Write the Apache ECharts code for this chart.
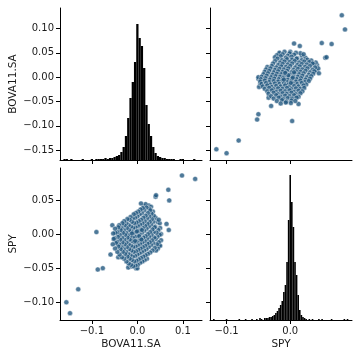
<!DOCTYPE html>
<html>
<head>
<meta charset="utf-8">
<script src="https://cdn.jsdelivr.net/npm/echarts@6/dist/echarts.min.js"></script>
<style>
html, body { margin: 0; padding: 0; background: #fff; }
#chart { width: 360px; height: 360px; }
</style>
</head>
<body>
<div id="chart"></div>
<script>
// variable names and axis ranges
var bovaName = 'BOVA11.SA';
var spyName = 'SPY';
var bovaRange = [-0.17, 0.142];
var spyRange = [-0.126, 0.097];

// tick positions
var bovaTicksX = [-0.1, 0.0, 0.1];
var bovaTicksY = [-0.15, -0.10, -0.05, 0.00, 0.05, 0.10];
var spyTicksX = [-0.1, 0.0];
var spyTicksY = [-0.10, -0.05, 0.00, 0.05];

// histogram of BOVA11.SA daily returns (bin centre, count), bin width 0.005
var bovaBinWidth = 0.005;
var bovaBins = [-0.160, -0.155, -0.145, -0.120, -0.100, -0.090, -0.085, -0.080, -0.075, -0.070,
  -0.065, -0.060, -0.055, -0.050, -0.045, -0.040, -0.035, -0.030, -0.025, -0.020, -0.015,
  -0.010, -0.005, 0.000, 0.005, 0.010, 0.015, 0.020, 0.025, 0.030, 0.035, 0.040, 0.045,
  0.050, 0.055, 0.060, 0.065, 0.070, 0.075, 0.080, 0.095, 0.100, 0.125];
var bovaCounts = [1, 1, 1, 1, 1, 1, 1, 1, 1, 2,
  1, 2, 2, 3, 4, 5, 8, 13, 24, 42, 62,
  78, 98, 136, 122, 114, 92, 55, 36, 24, 13, 7, 4,
  3, 2, 2, 1, 1, 1, 1, 1, 1, 1];

// histogram of SPY daily returns (bin centre, count), bin width 0.0025
var spyBinWidth = 0.0025;
var spyBins = [-0.1200, -0.1000, -0.0800, -0.0700, -0.0600, -0.0525, -0.0475, -0.0450, -0.0400,
  -0.0375, -0.0350, -0.0325, -0.0300, -0.0275, -0.0250, -0.0225, -0.0200, -0.0175, -0.0150,
  -0.0125, -0.0100, -0.0075, -0.0050, -0.0025, 0.0000, 0.0025, 0.0050, 0.0075, 0.0100,
  0.0125, 0.0150, 0.0175, 0.0200, 0.0225, 0.0250, 0.0300, 0.0350, 0.0450, 0.0500, 0.0650,
  0.0850, 0.0900];
var spyCounts = [1, 1, 1, 1, 1, 1, 2, 1, 2,
  2, 2, 3, 3, 4, 5, 7, 9, 12, 15,
  19, 28, 35, 58, 100, 145, 118, 93, 58, 45,
  25, 10, 5, 3, 2, 1, 1, 1, 1, 1, 1,
  1, 1];

// daily returns, pairs of [SPY, BOVA11.SA]
var returns = [
  [0.081, 0.127], [0.086, 0.098], [0.0495, 0.070], [0.065, 0.068], [0.006, 0.069], [0.015, 0.064],
  [0.055, 0.040], [0.057, 0.041], [0.042, 0.025], [0.041, 0.014], [-0.017, 0.048], [0.000, 0.052],
  [-0.050, -0.003], [-0.047, -0.016], [-0.034, -0.042], [-0.030, -0.059], [0.013, -0.055],
  [-0.050, -0.076], [-0.052, -0.087], [0.003, -0.090], [-0.081, -0.130], [-0.116, -0.148], [-0.100, -0.156],
  [0.044, 0.018], [0.040, 0.030], [0.045, 0.008], [-0.049, -0.020], [-0.047, -0.013], [-0.050, 0.000],
  [0.018, 0.044], [0.024, 0.040], [0.016, 0.049], [0.027, 0.036], [0.033, 0.034], [0.009, 0.050],
  [0.021, 0.047], [0.037, 0.027],
  [-0.017, 0.050], [-0.009, 0.052], [-0.001, 0.049],
  [-0.021, 0.045], [-0.012, 0.047], [-0.004, 0.044], [0.006, 0.046],
  [-0.024, 0.041], [-0.015, 0.043], [-0.007, 0.040], [0.002, 0.042], [0.011, 0.039],
  [-0.020, 0.038], [-0.013, 0.035], [-0.005, 0.037], [0.003, 0.036], [0.010, 0.038], [0.018, 0.035],
  [-0.024, 0.033], [-0.016, 0.030], [-0.009, 0.032], [-0.001, 0.031], [0.007, 0.033], [0.014, 0.030], [0.022, 0.032], [0.030, 0.031],
  [-0.027, 0.028], [-0.019, 0.025], [-0.012, 0.027], [-0.004, 0.026], [0.003, 0.028], [0.011, 0.025], [0.018, 0.027], [0.026, 0.026], [0.035, 0.028],
  [-0.036, 0.021], [-0.029, 0.023], [-0.022, 0.020], [-0.014, 0.022], [-0.007, 0.021], [0.000, 0.023], [0.008, 0.020], [0.015, 0.022], [0.023, 0.021], [0.031, 0.023], [0.039, 0.020],
  [-0.038, 0.016], [-0.031, 0.018], [-0.024, 0.015], [-0.017, 0.017], [-0.010, 0.016], [-0.003, 0.018], [0.005, 0.015], [0.012, 0.017], [0.019, 0.016], [0.027, 0.018], [0.035, 0.015],
  [-0.040, 0.011], [-0.033, 0.013], [-0.026, 0.010], [-0.019, 0.012], [-0.012, 0.011], [-0.005, 0.013], [0.002, 0.010], [0.009, 0.012], [0.016, 0.011], [0.024, 0.013], [0.031, 0.010], [0.038, 0.012],
  [-0.042, 0.006], [-0.035, 0.008], [-0.028, 0.005], [-0.021, 0.007], [-0.014, 0.006], [-0.007, 0.008], [0.000, 0.005], [0.007, 0.007], [0.014, 0.006], [0.021, 0.008], [0.029, 0.005], [0.036, 0.007],
  [-0.045, 0.001], [-0.037, 0.003], [-0.030, 0.000], [-0.023, 0.002], [-0.016, 0.001], [-0.009, 0.003], [-0.002, 0.000], [0.005, 0.002], [0.012, 0.001], [0.019, 0.003], [0.026, 0.000], [0.033, 0.002],
  [-0.046, -0.004], [-0.039, -0.002], [-0.032, -0.005], [-0.025, -0.003], [-0.018, -0.004], [-0.011, -0.002], [-0.004, -0.005], [0.003, -0.003], [0.010, -0.004], [0.017, -0.002], [0.024, -0.005], [0.031, -0.003],
  [-0.047, -0.009], [-0.040, -0.007], [-0.033, -0.010], [-0.026, -0.008], [-0.019, -0.009], [-0.012, -0.007], [-0.005, -0.010], [0.002, -0.008], [0.009, -0.009], [0.016, -0.007], [0.023, -0.010], [0.029, -0.008],
  [-0.045, -0.014], [-0.038, -0.012], [-0.031, -0.015], [-0.024, -0.013], [-0.017, -0.014], [-0.010, -0.012], [-0.003, -0.015], [0.004, -0.013], [0.011, -0.014], [0.018, -0.012], [0.025, -0.015],
  [-0.043, -0.019], [-0.036, -0.017], [-0.029, -0.020], [-0.022, -0.018], [-0.015, -0.019], [-0.008, -0.017], [-0.001, -0.020], [0.006, -0.018], [0.013, -0.019], [0.021, -0.017],
  [-0.040, -0.024], [-0.033, -0.022], [-0.026, -0.025], [-0.019, -0.023], [-0.012, -0.024], [-0.005, -0.022], [0.002, -0.025], [0.009, -0.023], [0.016, -0.024], [0.022, -0.022],
  [-0.036, -0.029], [-0.029, -0.027], [-0.022, -0.030], [-0.015, -0.028], [-0.008, -0.029], [-0.001, -0.027], [0.006, -0.030], [0.013, -0.028], [0.019, -0.029],
  [-0.034, -0.034], [-0.026, -0.032], [-0.019, -0.035], [-0.012, -0.033], [-0.005, -0.034], [0.002, -0.032], [0.009, -0.035], [0.016, -0.033],
  [-0.030, -0.039], [-0.022, -0.037], [-0.015, -0.040], [-0.008, -0.038], [-0.001, -0.039], [0.006, -0.037], [0.013, -0.040],
  [-0.026, -0.044], [-0.018, -0.042], [-0.011, -0.045], [-0.004, -0.043], [0.003, -0.044], [0.010, -0.042],
  [-0.021, -0.049], [-0.013, -0.047], [-0.006, -0.050], [0.002, -0.048], [0.008, -0.049],
  [-0.015, -0.054], [-0.007, -0.052], [0.001, -0.053],
  [-0.003, 0.004], [0.004, -0.001], [-0.008, 0.009], [0.006, 0.010], [-0.010, -0.005], [0.001, -0.012]
];

var font = 'DejaVu Sans';
var txt = '#1a1a1a';

function fmt(digits) {
  return function (v) {
    var s = Math.abs(v).toFixed(digits);
    return (v < -1e-9 ? '\u2212' : '') + s;
  };
}

function valueAxis(gridIndex, range, ticks, opts) {
  var ax = {
    type: 'value',
    gridIndex: gridIndex,
    min: range[0],
    max: range[1],
    splitLine: { show: false },
    axisLine: { show: true, onZero: false, lineStyle: { color: '#000', width: 1 } },
    axisTick: { show: true, length: 4, customValues: ticks, lineStyle: { color: '#000', width: 1 } },
    axisLabel: { show: false, customValues: ticks }
  };
  if (opts.labels) {
    ax.axisLabel = {
      show: true, customValues: ticks, margin: 6,
      fontFamily: font, fontSize: 10, color: txt,
      formatter: fmt(opts.digits)
    };
  }
  if (opts.name) {
    ax.name = opts.name;
    ax.nameLocation = 'middle';
    ax.nameGap = opts.nameGap;
    ax.nameTextStyle = { fontFamily: font, fontSize: 10.5, color: txt };
  }
  if (opts.position) ax.position = opts.position;
  return ax;
}

function countAxis(gridIndex) {
  return { type: 'value', gridIndex: gridIndex, min: 0, max: 152, show: false, position: 'right' };
}

function histItem(width) {
  return function (params, api) {
    var x = api.value(0);
    var c = api.value(1);
    var p0 = api.coord([x - width / 2, c]);
    var p1 = api.coord([x + width / 2, 0]);
    return {
      type: 'rect',
      shape: { x: p0[0], y: p0[1], width: Math.max(p1[0] - p0[0], 1), height: p1[1] - p0[1] },
      style: { fill: '#000' }
    };
  };
}

var bovaHist = bovaBins.map(function (b, i) { return [b, bovaCounts[i]]; });
var spyHist = spyBins.map(function (b, i) { return [b, spyCounts[i]]; });
var spyVsBova = returns.map(function (r) { return [r[0], r[1]]; });
var bovaVsSpy = returns.map(function (r) { return [r[1], r[0]]; });

var pointStyle = { color: '#22577f', borderColor: '#fff', borderWidth: 0.5 };

var chart = echarts.init(document.getElementById('chart'), null, { renderer: 'canvas' });
chart.setOption({
  backgroundColor: '#fff',
  animation: false,
  grid: [
    { left: 60, top: 8, width: 142, height: 152 },
    { left: 210, top: 8, width: 142, height: 152 },
    { left: 60, top: 168, width: 142, height: 152 },
    { left: 210, top: 168, width: 142, height: 152 }
  ],
  xAxis: [
    valueAxis(0, bovaRange, bovaTicksX, {}),
    valueAxis(1, spyRange, spyTicksX, {}),
    valueAxis(2, bovaRange, bovaTicksX, { labels: true, digits: 1, name: bovaName, nameGap: 19 }),
    valueAxis(3, spyRange, spyTicksX, { labels: true, digits: 1, name: spyName, nameGap: 19 })
  ],
  yAxis: [
    valueAxis(0, bovaRange, bovaTicksY, { labels: true, digits: 2, name: bovaName, nameGap: 41, position: 'left' }),
    countAxis(0),
    valueAxis(1, bovaRange, bovaTicksY, { position: 'left' }),
    valueAxis(2, spyRange, spyTicksY, { labels: true, digits: 2, name: spyName, nameGap: 41, position: 'left' }),
    valueAxis(3, spyRange, spyTicksY, { position: 'left' }),
    countAxis(3)
  ],
  series: [
    {
      type: 'custom', xAxisIndex: 0, yAxisIndex: 1,
      renderItem: histItem(bovaBinWidth), data: bovaHist, clip: true
    },
    {
      type: 'scatter', xAxisIndex: 1, yAxisIndex: 2,
      symbol: 'circle', symbolSize: 5, itemStyle: pointStyle, data: spyVsBova
    },
    {
      type: 'scatter', xAxisIndex: 2, yAxisIndex: 3,
      symbol: 'circle', symbolSize: 5, itemStyle: pointStyle, data: bovaVsSpy
    },
    {
      type: 'custom', xAxisIndex: 3, yAxisIndex: 5,
      renderItem: histItem(spyBinWidth), data: spyHist, clip: true
    }
  ]
});
</script>
</body>
</html>
